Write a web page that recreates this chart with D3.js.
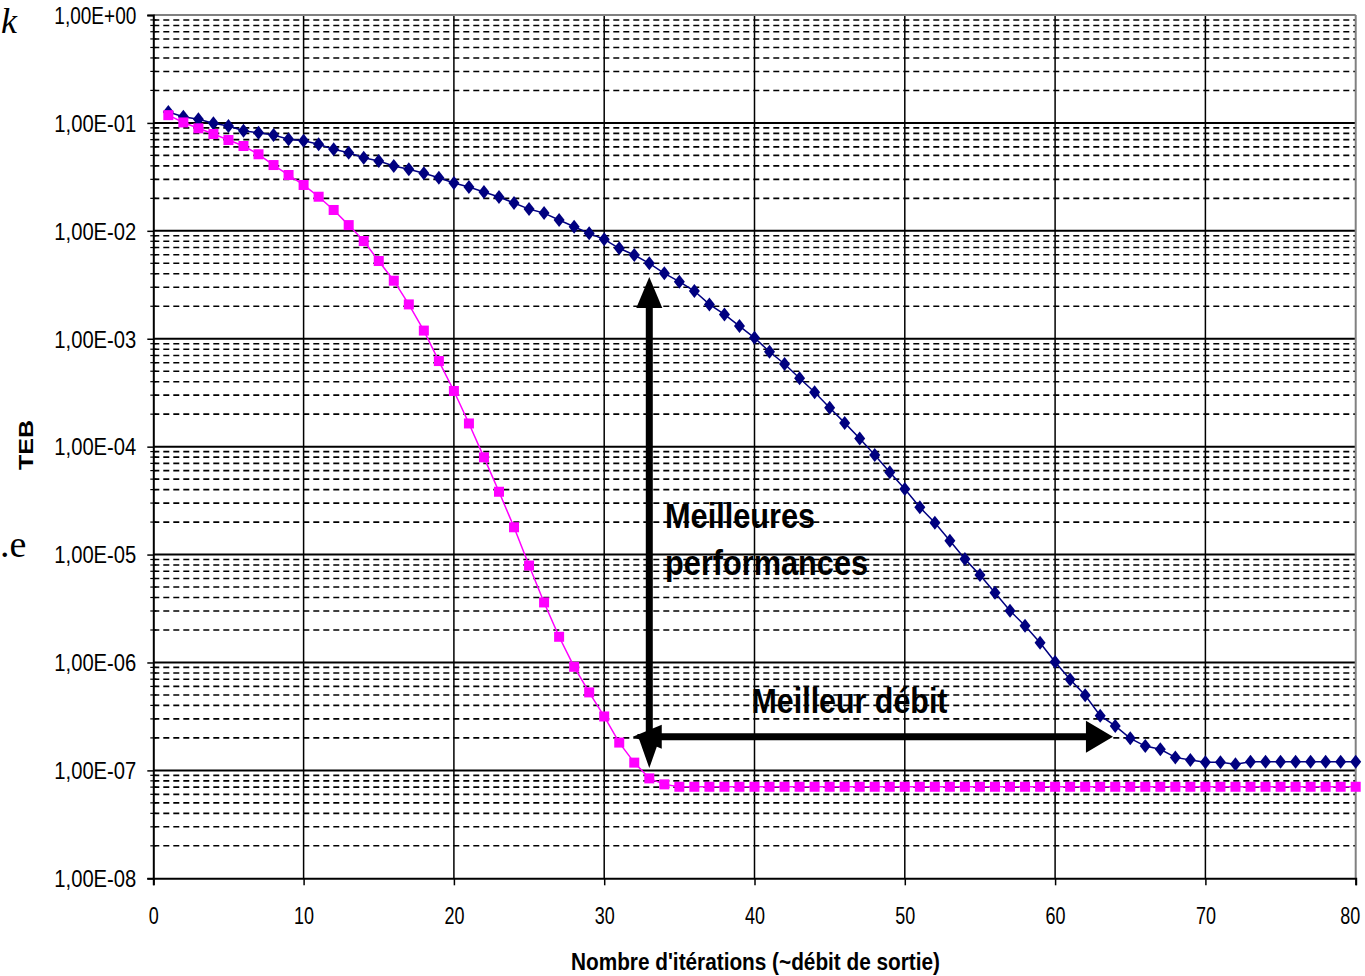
<!DOCTYPE html>
<html><head><meta charset="utf-8">
<script src="https://cdn.jsdelivr.net/npm/d3@7"></script>
<style>body{margin:0;background:#fff}svg{display:block}</style>
</head><body>
<svg id="c" width="1365" height="976"></svg>
<script>
const iterations = d3.range(1, 81);
const tebBlue = [0.126,0.114,0.108,0.0992,0.0936,0.0847,0.0811,0.0772,0.0705,0.0684,
 0.0633,0.0569,0.0530,0.0476,0.0443,0.0399,0.0372,0.0341,0.0310,0.0277,
 0.0255,0.0229,0.0206,0.0181,0.0159,0.0146,0.0126,0.0109,0.00948,0.00834,
 0.00689,0.00597,0.00500,0.00404,0.00338,0.00277,0.00208,0.00168,0.00131,0.00102,
 7.58e-4,5.83e-4,4.30e-4,3.19e-4,2.29e-4,1.66e-4,1.19e-4,8.36e-5,5.78e-5,4.05e-5,
 2.74e-5,1.97e-5,1.34e-5,9.08e-6,6.45e-6,4.42e-6,3.01e-6,2.19e-6,1.52e-6,1.01e-6,
 6.95e-7,4.96e-7,3.21e-7,2.58e-7,1.98e-7,1.68e-7,1.57e-7,1.32e-7,1.25e-7,1.19e-7,
 1.19e-7,1.14e-7,1.20e-7,1.20e-7,1.20e-7,1.20e-7,1.20e-7,1.20e-7,1.20e-7,1.20e-7];
const tebPink = [0.118,0.101,0.0891,0.0789,0.0694,0.0611,0.0512,0.0407,0.0329,0.0266,
 0.0207,0.0156,0.0113,0.00804,0.00525,0.00345,0.00208,0.00119,6.21e-4,3.28e-4,
 1.64e-4,7.96e-5,3.82e-5,1.79e-5,7.91e-6,3.60e-6,1.73e-6,9.12e-7,5.28e-7,3.16e-7,
 1.81e-7,1.18e-7,8.43e-8,7.42e-8,7.05e-8,7.05e-8,7.05e-8,7.05e-8,7.05e-8,7.05e-8,
 7.05e-8,7.05e-8,7.05e-8,7.05e-8,7.05e-8,7.05e-8,7.05e-8,7.05e-8,7.05e-8,7.05e-8,
 7.05e-8,7.05e-8,7.05e-8,7.05e-8,7.05e-8,7.05e-8,7.05e-8,7.05e-8,7.05e-8,7.05e-8,
 7.05e-8,7.05e-8,7.05e-8,7.05e-8,7.05e-8,7.05e-8,7.05e-8,7.05e-8,7.05e-8,7.05e-8,
 7.05e-8,7.05e-8,7.05e-8,7.05e-8,7.05e-8,7.05e-8,7.05e-8,7.05e-8,7.05e-8,7.05e-8];
const xTicks = [0,10,20,30,40,50,60,70,80];
const yDecades = [1,1e-1,1e-2,1e-3,1e-4,1e-5,1e-6,1e-7,1e-8];
const yTickLabels = ["1,00E+00","1,00E-01","1,00E-02","1,00E-03","1,00E-04","1,00E-05","1,00E-06","1,00E-07","1,00E-08"];
const xTitle = "Nombre d'itérations (~débit de sortie)";
const yTitle = "TEB";
const annVert = {x:33, y1:3.73e-3, y2:1.05e-7};
const annHorz = {y:2.05e-7, x1:31.9, x2:63.85};
const annText1 = {x:34.05, lines:["Meilleures","performances"], ys:[1.75e-5,6.4e-6]};
const annText2 = {x:39.8, text:"Meilleur débit", y:3.4e-7};

const svg = d3.select("#c");
const x = d3.scaleLinear().domain([0,80]).range([153.3,1355.7]);
const y = d3.scaleLog().domain([1e-8,1]).range([878.3,15]);
const L = x.range()[0], R = x.range()[1], T = y.range()[1], B = y.range()[0];

// minor dashed gridlines
const minors = [];
for (let d=-8; d<0; d++) for (let k=2;k<=9;k++) minors.push(k*Math.pow(10,d));
svg.append("g").selectAll("line").data(minors).join("line")
 .attr("x1",L).attr("x2",R).attr("y1",d=>y(d)).attr("y2",d=>y(d))
 .attr("stroke","#000").attr("stroke-width",1.6).attr("stroke-dasharray","6,4");
// vertical grid
svg.append("g").selectAll("line").data(xTicks.filter(t=>t>0&&t<80)).join("line")
 .attr("x1",d=>x(d)).attr("x2",d=>x(d)).attr("y1",T).attr("y2",B)
 .attr("stroke","#000").attr("stroke-width",1.5);
// decade grid
svg.append("g").selectAll("line").data(yDecades.filter(d=>d<1&&d>1e-8)).join("line")
 .attr("x1",L).attr("x2",R).attr("y1",d=>y(d)).attr("y2",d=>y(d))
 .attr("stroke","#000").attr("stroke-width",2);
// top/right border
svg.append("line").attr("x1",L).attr("x2",R).attr("y1",T).attr("y2",T).attr("stroke","#808080").attr("stroke-width",2);
svg.append("line").attr("x1",R).attr("x2",R).attr("y1",T).attr("y2",B).attr("stroke","#808080").attr("stroke-width",2);

// y axis
const yAxis = d3.axisLeft(y).tickValues(yDecades).tickSize(6).tickFormat((d,i)=>yTickLabels[i]);
const ga = svg.append("g").attr("transform",`translate(${L},0)`).call(yAxis);
ga.select(".domain").attr("stroke","#000").attr("stroke-width",2);
ga.selectAll(".tick line").attr("stroke","#000").attr("stroke-width",1.5);
ga.selectAll(".tick text").attr("font-family","Liberation Sans, Arial, sans-serif").attr("font-size",23)
 .attr("fill","#000").attr("x",-17).attr("textLength",82).attr("lengthAdjust","spacingAndGlyphs");
ga.selectAll(".tick text").attr("dy","0.36em");
// minor ticks crossing the y axis
svg.append("g").selectAll("line").data(minors).join("line")
 .attr("x1",L-3).attr("x2",L+3).attr("y1",d=>y(d)).attr("y2",d=>y(d)).attr("stroke","#000").attr("stroke-width",1.2);

// x axis
const xAxis = d3.axisBottom(x).tickValues(xTicks).tickSize(7).tickFormat(d3.format("d"));
const gx = svg.append("g").attr("transform",`translate(0,${B})`).call(xAxis);
gx.select(".domain").attr("stroke","#000").attr("stroke-width",2);
gx.selectAll(".tick line").attr("stroke","#000").attr("stroke-width",1.5);
gx.selectAll(".tick text").attr("font-family","Liberation Sans, Arial, sans-serif").attr("font-size",24)
 .attr("fill","#000").attr("y",29).attr("dy","0.71em")
 .each(function(d){
   const s=String(d), sel=d3.select(this);
   sel.attr("textLength", s.length*10).attr("lengthAdjust","spacingAndGlyphs");
   if (d===80) sel.attr("x",-6);
 });

// series
const blue = iterations.map((it,i)=>({x:it,v:tebBlue[i]}));
const pink = iterations.map((it,i)=>({x:it,v:tebPink[i]}));
const line = d3.line().x(d=>x(d.x)).y(d=>y(d.v));
svg.append("path").datum(blue).attr("d",line).attr("fill","none").attr("stroke","#000080").attr("stroke-width",1.5);
svg.append("g").selectAll("path").data(blue).join("path")
 .attr("d","M0,-7L5.5,0L0,7L-5.5,0Z").attr("transform",d=>`translate(${x(d.x)},${y(d.v)})`).attr("fill","#000080");
svg.append("path").datum(pink).attr("d",line).attr("fill","none").attr("stroke","#FF00FF").attr("stroke-width",1.5);
svg.append("g").selectAll("rect").data(pink).join("rect")
 .attr("x",d=>x(d.x)-5).attr("y",d=>y(d.v)-5).attr("width",10).attr("height",10).attr("fill","#FF00FF");

// annotation arrows
const vx = x(annVert.x), vy1 = y(annVert.y1), vy2 = y(annVert.y2);
const hy = y(annHorz.y), hx1 = x(annHorz.x1), hx2 = x(annHorz.x2);
const ann = svg.append("g").attr("fill","#000");
ann.append("rect").attr("x",vx-3.5).attr("y",vy1+25).attr("width",7).attr("height",(vy2-28)-(vy1+25));
ann.append("path").attr("d",`M${vx},${vy1}L${vx+13},${vy1+31}L${vx-13},${vy1+31}Z`);
ann.append("path").attr("d",`M${vx},${vy2}L${vx+12},${vy2-34}L${vx-12},${vy2-34}Z`);
ann.append("rect").attr("x",hx1+20).attr("y",hy-3.5).attr("width",(hx2-26)-(hx1+20)).attr("height",7);
ann.append("path").attr("d",`M${hx1},${hy}L${hx1+29},${hy-12}L${hx1+29},${hy+12}Z`);
ann.append("path").attr("d",`M${hx2},${hy}L${hx2-27},${hy-16}L${hx2-27},${hy+16}Z`);

const boldFont = "Liberation Sans, Arial, sans-serif";
annText1.lines.forEach((t,i)=>{
  svg.append("text").attr("x",x(annText1.x)).attr("y",y(annText1.ys[i])).text(t)
   .attr("font-family",boldFont).attr("font-weight","bold").attr("font-size",35)
   .attr("textLength", i===0?150:203).attr("lengthAdjust","spacingAndGlyphs").attr("fill","#000");
});
svg.append("text").attr("x",x(annText2.x)).attr("y",y(annText2.y)).text(annText2.text)
 .attr("font-family",boldFont).attr("font-weight","bold").attr("font-size",35)
 .attr("textLength",196).attr("lengthAdjust","spacingAndGlyphs").attr("fill","#000");

// axis titles
svg.append("text").attr("x",(571+940)/2).attr("y",970).attr("text-anchor","middle").text(xTitle)
 .attr("font-family",boldFont).attr("font-weight","bold").attr("font-size",23)
 .attr("textLength",369).attr("lengthAdjust","spacingAndGlyphs");
svg.append("text").attr("transform","translate(33,445) rotate(-90)").attr("text-anchor","middle").text(yTitle)
 .attr("font-family",boldFont).attr("font-weight","bold").attr("font-size",21)
 .attr("textLength",50).attr("lengthAdjust","spacingAndGlyphs");

// fragments of surrounding page text
svg.append("text").attr("x",1).attr("y",33).text("k").attr("font-family","Liberation Serif, serif")
 .attr("font-style","italic").attr("font-size",36);
svg.append("text").attr("x",0).attr("y",557).text(".e").attr("font-family","Liberation Serif, serif").attr("font-size",38);
</script>
</body></html>
